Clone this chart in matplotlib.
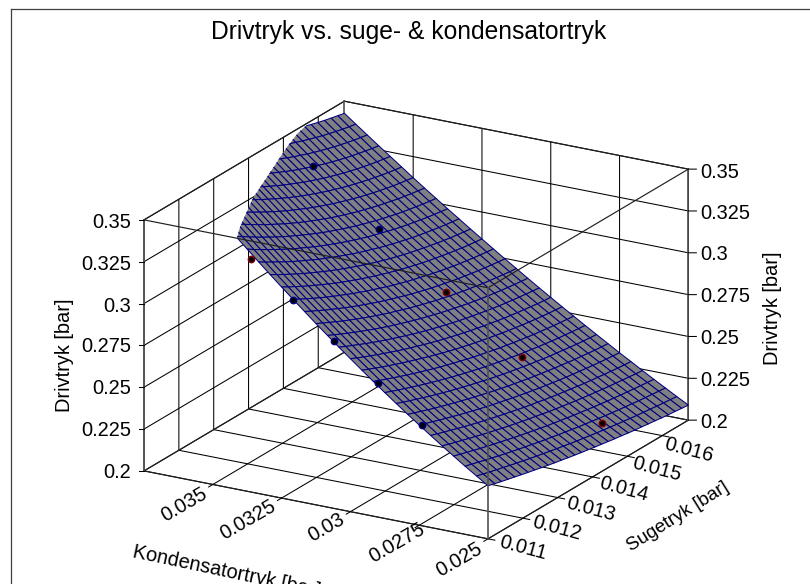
import numpy as np
import matplotlib
matplotlib.use('Agg')
import matplotlib.pyplot as plt
from matplotlib.lines import Line2D
from matplotlib.path import Path
from matplotlib.transforms import IdentityTransform

plt.rcParams['font.family'] = ['Liberation Sans', 'DejaVu Sans']
plt.rcParams['grid.color'] = 'black'
plt.rcParams['grid.linewidth'] = 0.75

W, H = 810, 584

# axis ranges and ticks
x_range = (0.0375, 0.025)
y_range = (0.011, 0.01675)
z_range = (0.2, 0.35)
x_ticks = [0.035, 0.0325, 0.03, 0.0275, 0.025]
x_labels = ['0.035', '0.0325', '0.03', '0.0275', '0.025']
y_ticks = [0.011, 0.012, 0.013, 0.014, 0.015, 0.016]
y_labels = ['0.011', '0.012', '0.013', '0.014', '0.015', '0.016']
z_ticks = [0.2, 0.225, 0.25, 0.275, 0.3, 0.325, 0.35]
z_labels = ['0.2', '0.225', '0.25', '0.275', '0.3', '0.325', '0.35']

# surface mesh: kondensatortryk along the columns, sugetryk along the rows
mesh_x = [0.025, 0.0254167, 0.0258333, 0.02625, 0.0266667, 0.0270833, 0.0275, 0.0279167, 0.0283333, 0.02875, 0.0291667,
          0.0295833, 0.03, 0.0304167, 0.0308333, 0.03125, 0.0316667, 0.0320833, 0.0325, 0.0329167, 0.0333333, 0.03375,
          0.0341667, 0.0345833, 0.035, 0.0354167, 0.0358333, 0.03625, 0.0366667, 0.0370833, 0.0375]
mesh_y = [0.011, 0.0111917, 0.0113833, 0.011575, 0.0117667, 0.0119583, 0.01215, 0.0123417, 0.0125333, 0.012725, 0.0129167,
          0.0131083, 0.0133, 0.0134917, 0.0136833, 0.013875, 0.0140667, 0.0142583, 0.01445, 0.0146417, 0.0148333, 0.015025,
          0.0152167, 0.0154083, 0.0156, 0.0157917, 0.0159833, 0.016175, 0.0163667, 0.0165583, 0.01675]
# drivtryk on the mesh, in 1e-4 bar
mesh_z = [
    [2317, 2362, 2407, 2454, 2501, 2550, 2599, 2649, 2700, 2752, 2805, 2859, 2914, 2969, 3026, 3083, 3142, 3201, 3261, 3322, 3384, 3447, 3510, 3575, 3641, 3707, 3775, 3843, 3912, 3982, 4053],
    [2306, 2350, 2395, 2441, 2488, 2536, 2585, 2634, 2685, 2736, 2788, 2841, 2895, 2950, 3006, 3063, 3120, 3179, 3238, 3298, 3359, 3421, 3484, 3548, 3613, 3679, 3745, 3812, 3881, 3950, 4020],
    [2295, 2339, 2384, 2429, 2475, 2523, 2571, 2620, 2669, 2720, 2772, 2824, 2877, 2932, 2987, 3043, 3100, 3157, 3216, 3275, 3336, 3397, 3459, 3522, 3586, 3651, 3716, 3783, 3850, 3918, 3987],
    [2285, 2328, 2372, 2417, 2463, 2510, 2557, 2605, 2655, 2705, 2756, 2807, 2860, 2914, 2968, 3023, 3079, 3136, 3194, 3253, 3313, 3373, 3434, 3497, 3560, 3624, 3688, 3754, 3820, 3888, 3956],
    [2275, 2318, 2361, 2405, 2451, 2497, 2544, 2591, 2640, 2690, 2740, 2791, 2843, 2896, 2950, 3004, 3060, 3116, 3173, 3231, 3290, 3350, 3410, 3472, 3534, 3597, 3661, 3726, 3792, 3858, 3925],
    [2265, 2307, 2350, 2394, 2439, 2484, 2531, 2578, 2626, 2675, 2725, 2775, 2827, 2879, 2932, 2986, 3041, 3096, 3153, 3210, 3268, 3327, 3387, 3448, 3509, 3571, 3635, 3699, 3763, 3829, 3896],
    [2255, 2297, 2339, 2383, 2427, 2472, 2518, 2565, 2612, 2661, 2710, 2760, 2811, 2862, 2915, 2968, 3022, 3077, 3133, 3190, 3247, 3305, 3364, 3424, 3485, 3547, 3609, 3672, 3736, 3801, 3867],
    [2246, 2287, 2329, 2372, 2416, 2460, 2506, 2552, 2599, 2647, 2696, 2745, 2795, 2846, 2898, 2951, 3004, 3059, 3114, 3170, 3227, 3284, 3342, 3402, 3462, 3522, 3584, 3646, 3710, 3774, 3839],
    [2236, 2277, 2319, 2362, 2405, 2449, 2494, 2540, 2586, 2634, 2682, 2731, 2780, 2831, 2882, 2934, 2987, 3041, 3095, 3151, 3207, 3264, 3321, 3380, 3439, 3499, 3560, 3622, 3684, 3747, 3811],
    [2227, 2268, 2309, 2351, 2394, 2438, 2482, 2528, 2574, 2621, 2668, 2717, 2766, 2816, 2866, 2918, 2970, 3023, 3077, 3132, 3187, 3244, 3301, 3358, 3417, 3476, 3537, 3598, 3659, 3722, 3785],
    [2218, 2259, 2300, 2341, 2384, 2427, 2471, 2516, 2562, 2608, 2655, 2703, 2752, 2801, 2851, 2902, 2954, 3007, 3060, 3114, 3169, 3224, 3281, 3338, 3396, 3455, 3514, 3574, 3635, 3697, 3760],
    [2210, 2250, 2290, 2332, 2374, 2417, 2460, 2505, 2550, 2596, 2643, 2690, 2738, 2787, 2837, 2887, 2938, 2990, 3043, 3097, 3151, 3206, 3262, 3318, 3375, 3433, 3492, 3552, 3612, 3673, 3735],
    [2201, 2241, 2281, 2322, 2364, 2407, 2450, 2494, 2539, 2584, 2630, 2677, 2725, 2773, 2823, 2873, 2923, 2975, 3027, 3080, 3134, 3188, 3243, 3299, 3356, 3413, 3471, 3530, 3590, 3650, 3711],
    [2193, 2233, 2273, 2313, 2355, 2397, 2440, 2483, 2528, 2573, 2619, 2665, 2712, 2760, 2809, 2859, 2909, 2960, 3011, 3064, 3117, 3171, 3225, 3281, 3337, 3393, 3451, 3509, 3568, 3628, 3688],
    [2185, 2224, 2264, 2304, 2346, 2387, 2430, 2473, 2517, 2562, 2607, 2653, 2700, 2748, 2796, 2845, 2895, 2945, 2996, 3048, 3101, 3154, 3208, 3263, 3318, 3374, 3431, 3489, 3547, 3606, 3666],
    [2178, 2216, 2256, 2296, 2337, 2378, 2421, 2463, 2507, 2551, 2596, 2642, 2689, 2736, 2784, 2832, 2881, 2931, 2982, 3033, 3085, 3138, 3192, 3246, 3301, 3356, 3413, 3470, 3527, 3586, 3645],
    [2170, 2209, 2248, 2288, 2328, 2370, 2411, 2454, 2497, 2541, 2586, 2631, 2677, 2724, 2772, 2820, 2868, 2918, 2968, 3019, 3071, 3123, 3176, 3229, 3284, 3339, 3395, 3451, 3508, 3566, 3624],
    [2163, 2201, 2240, 2280, 2320, 2361, 2403, 2445, 2488, 2532, 2576, 2621, 2667, 2713, 2760, 2808, 2856, 2905, 2955, 3005, 3057, 3108, 3161, 3214, 3268, 3322, 3377, 3433, 3490, 3547, 3605],
    [2156, 2194, 2233, 2272, 2312, 2353, 2394, 2436, 2479, 2522, 2566, 2611, 2656, 2702, 2749, 2796, 2844, 2893, 2942, 2992, 3043, 3094, 3146, 3199, 3252, 3306, 3361, 3416, 3472, 3529, 3586],
    [2149, 2187, 2226, 2265, 2305, 2345, 2386, 2428, 2471, 2514, 2557, 2602, 2647, 2692, 2739, 2786, 2833, 2882, 2930, 2980, 3030, 3081, 3133, 3185, 3238, 3291, 3345, 3400, 3455, 3512, 3568],
    [2143, 2181, 2219, 2258, 2297, 2338, 2379, 2420, 2462, 2505, 2549, 2593, 2637, 2683, 2729, 2775, 2823, 2871, 2919, 2968, 3018, 3069, 3120, 3171, 3224, 3277, 3330, 3385, 3440, 3495, 3551],
    [2136, 2174, 2212, 2251, 2291, 2331, 2371, 2413, 2455, 2497, 2540, 2584, 2629, 2674, 2719, 2766, 2813, 2860, 2908, 2957, 3007, 3057, 3107, 3159, 3211, 3263, 3316, 3370, 3424, 3480, 3535],
    [2130, 2168, 2206, 2245, 2284, 2324, 2364, 2405, 2447, 2490, 2533, 2576, 2620, 2665, 2710, 2756, 2803, 2850, 2898, 2947, 2996, 3045, 3096, 3147, 3198, 3250, 3303, 3356, 3410, 3465, 3520],
    [2125, 2162, 2200, 2238, 2278, 2317, 2358, 2399, 2440, 2482, 2525, 2569, 2612, 2657, 2702, 2748, 2794, 2841, 2889, 2937, 2985, 3035, 3085, 3135, 3186, 3238, 3290, 3343, 3397, 3451, 3505],
    [2119, 2156, 2194, 2233, 2272, 2311, 2352, 2392, 2434, 2476, 2518, 2561, 2605, 2649, 2694, 2740, 2786, 2832, 2880, 2928, 2976, 3025, 3074, 3125, 3175, 3227, 3278, 3331, 3384, 3438, 3492],
    [2114, 2151, 2189, 2227, 2266, 2306, 2346, 2386, 2428, 2469, 2512, 2555, 2598, 2642, 2687, 2732, 2778, 2824, 2871, 2919, 2967, 3016, 3065, 3115, 3165, 3216, 3267, 3319, 3372, 3425, 3479],
    [2108, 2146, 2183, 2222, 2261, 2300, 2340, 2381, 2422, 2463, 2506, 2548, 2592, 2636, 2680, 2725, 2771, 2817, 2864, 2911, 2959, 3007, 3056, 3105, 3155, 3206, 3257, 3309, 3361, 3414, 3467],
    [2103, 2141, 2178, 2217, 2256, 2295, 2335, 2375, 2416, 2458, 2500, 2543, 2586, 2630, 2674, 2719, 2764, 2810, 2856, 2903, 2951, 2999, 3048, 3097, 3146, 3197, 3247, 3299, 3351, 3403, 3456],
    [2099, 2136, 2174, 2212, 2251, 2290, 2330, 2370, 2411, 2453, 2495, 2537, 2580, 2624, 2668, 2713, 2758, 2804, 2850, 2897, 2944, 2992, 3040, 3089, 3138, 3188, 3239, 3290, 3341, 3393, 3446],
    [2094, 2132, 2169, 2208, 2246, 2286, 2326, 2366, 2407, 2448, 2490, 2533, 2575, 2619, 2663, 2707, 2752, 2798, 2844, 2890, 2938, 2985, 3033, 3082, 3131, 3181, 3231, 3281, 3333, 3384, 3437],
    [2090, 2127, 2165, 2203, 2242, 2282, 2321, 2362, 2403, 2444, 2486, 2528, 2571, 2614, 2658, 2703, 2747, 2793, 2839, 2885, 2932, 2979, 3027, 3075, 3124, 3174, 3224, 3274, 3325, 3376, 3428],
]

# measured points
blue_x = [0.0321, 0.03058, 0.02898, 0.02741, 0.03644, 0.03402]
blue_y = [0.011, 0.011, 0.011, 0.011, 0.015, 0.015]
blue_z = [0.3196, 0.3002, 0.2803, 0.2603, 0.3363, 0.3063]
red_x = [0.0336, 0.0316, 0.02883, 0.02591]
red_y = [0.011, 0.015, 0.015, 0.015]
red_z = [0.3393, 0.2765, 0.2467, 0.2167]

# edge of the surface where it leaves the box (pixels, top-left origin), then padding round the rest
clip_edge = [(237, 238), (240, 227), (253, 198), (265, 180), (287, 147), (298, 133), (310, 122), (320, 119), (343, 113)]
clip_px = [(230, 250)] + clip_edge + [(360, 90), (730, 400), (500, 530)]


def px_text(px, py, s, **kw):
    kw.setdefault('ha', 'center')
    kw.setdefault('va', 'center')
    kw.setdefault('fontsize', 14.4)
    fig.text(px / W, 1 - py / H, s, color='black', **kw)


fig = plt.figure(figsize=(W / 100, H / 100), dpi=100)
ax = fig.add_axes([105 / W, -47.2 / H, 606 / W, 606 / H], projection='3d', proj_type='ortho', computed_zorder=False)
ax.patch.set_alpha(0)
ax.view_init(elev=20, azim=-60)
ax.set_box_aspect((1.4869, 1.5, 1))
ax.set_xlim(*x_range, view_margin=0)
ax.set_ylim(*y_range, view_margin=0)
ax.set_zlim(*z_range, view_margin=0)
ax.set_xticks(x_ticks)
ax.set_yticks(y_ticks)
ax.set_zticks(z_ticks)
ax.set_xticklabels([])
ax.set_yticklabels([])
ax.set_zticklabels([])

for axis in (ax.xaxis, ax.yaxis, ax.zaxis):
    axis.set_pane_color((1, 1, 1, 0))
    axis.pane.set_edgecolor('none')
    axis.line.set_visible(False)
    axis._axinfo['tick']['inward_factor'] = 0
    axis._axinfo['tick']['outward_factor'] = 0
    for tick in axis.get_major_ticks():
        tick.tick1line.set_visible(False)

X, Y = np.meshgrid(mesh_x, mesh_y)
Z = np.array(mesh_z) / 1e4
surf = ax.plot_surface(X, Y, Z, rstride=1, cstride=1, color='#808080', edgecolor='#000080', linewidth=0.75,
                       shade=False, zorder=3)
surf.set_clip_path(Path([(px, H - py) for px, py in clip_px] + [(0, 0)],
                        [Path.MOVETO] + [Path.LINETO] * (len(clip_px) - 1) + [Path.CLOSEPOLY]), IdentityTransform())

# box edges, the back ones stay behind the surface
x0, x1 = x_range
y0, y1 = y_range
z0, z1 = z_range
back = dict(color='#202020', lw=0.85, zorder=2)
front = dict(color='#202020', lw=0.85, zorder=4)
ax.plot([x0, x1], [y0, y0], [z0, z0], **back)
ax.plot([x0, x1], [y1, y1], [z0, z0], **back)
ax.plot([x0, x1], [y1, y1], [z1, z1], **back)
ax.plot([x0, x1], [y0, y0], [z1, z1], **front)
ax.plot([x0, x0], [y0, y1], [z0, z0], **back)
ax.plot([x1, x1], [y0, y1], [z0, z0], **back)
ax.plot([x0, x0], [y0, y1], [z1, z1], **back)
ax.plot([x1, x1], [y0, y1], [z1, z1], **front)
for a, b, z in [(x0, y0, 2), (x1, y0, 4), (x0, y1, 2), (x1, y1, 2)]:
    ax.plot([a, a], [b, b], [z0, z1], color='#505050', lw=1.2, zorder=z)

# tick marks
tick = dict(color='black', lw=0.75, zorder=2)
for v in x_ticks:
    ax.plot([v, v], [y0, y0 - 0.00012], [z0, z0], **tick)
for v in y_ticks:
    ax.plot([x1, x1 - 0.00025], [v, v], [z0, z0], **tick)
for v in z_ticks:
    ax.plot([x0, x0 + 0.000136], [y0, y0 - 0.0000358], [v, v], **tick)
    ax.plot([x1, x1 - 0.000218], [y1, y1 + 0.0000574], [v, v], **tick)

ax.plot(blue_x, blue_y, blue_z, ls='none', marker='o', ms=4.6, mfc='black', mec='#000080', mew=1.0, zorder=5)
ax.plot(red_x, red_y, red_z, ls='none', marker='o', ms=4.6, mfc='black', mec='#800000', mew=1.0, zorder=5)

# texts
px_text(409, 32, 'Drivtryk vs. suge- & kondensatortryk', fontsize=17.7)
for py, s in zip([473, 431, 389, 347, 306, 264, 222], z_labels):
    px_text(131, py, s, ha='right')
for py, s in zip([422, 380, 338, 297, 255, 213, 172], z_labels):
    px_text(700, py, s, ha='left')
for (px, py), s in zip([(184, 505), (248, 520), (326, 528), (397, 543), (459, 560)], x_labels):
    px_text(px, py, s, rotation=30)
for (px, py), s in zip([(523, 548), (557, 528), (591, 509), (624, 489), (657, 469), (689, 450)], y_labels):
    px_text(px, py, s, rotation=-15)
px_text(65, 355, 'Drivtryk [bar]', rotation=90)
px_text(773, 308, 'Drivtryk [bar]', rotation=90)
px_text(227, 572, 'Kondensatortryk [bar]', rotation=-12)
px_text(678, 517, 'Sugetryk [bar]', rotation=32, fontsize=13.5)

# outer frame, open at right and bottom
frame = dict(color='#404040', lw=0.9, transform=fig.transFigure)
fig.add_artist(Line2D([10.5 / W, 1], [1 - 8.5 / H, 1 - 8.5 / H], **frame))
fig.add_artist(Line2D([10.5 / W, 10.5 / W], [0, 1 - 8.5 / H], **frame))

fig.savefig('out.png', dpi=100)
